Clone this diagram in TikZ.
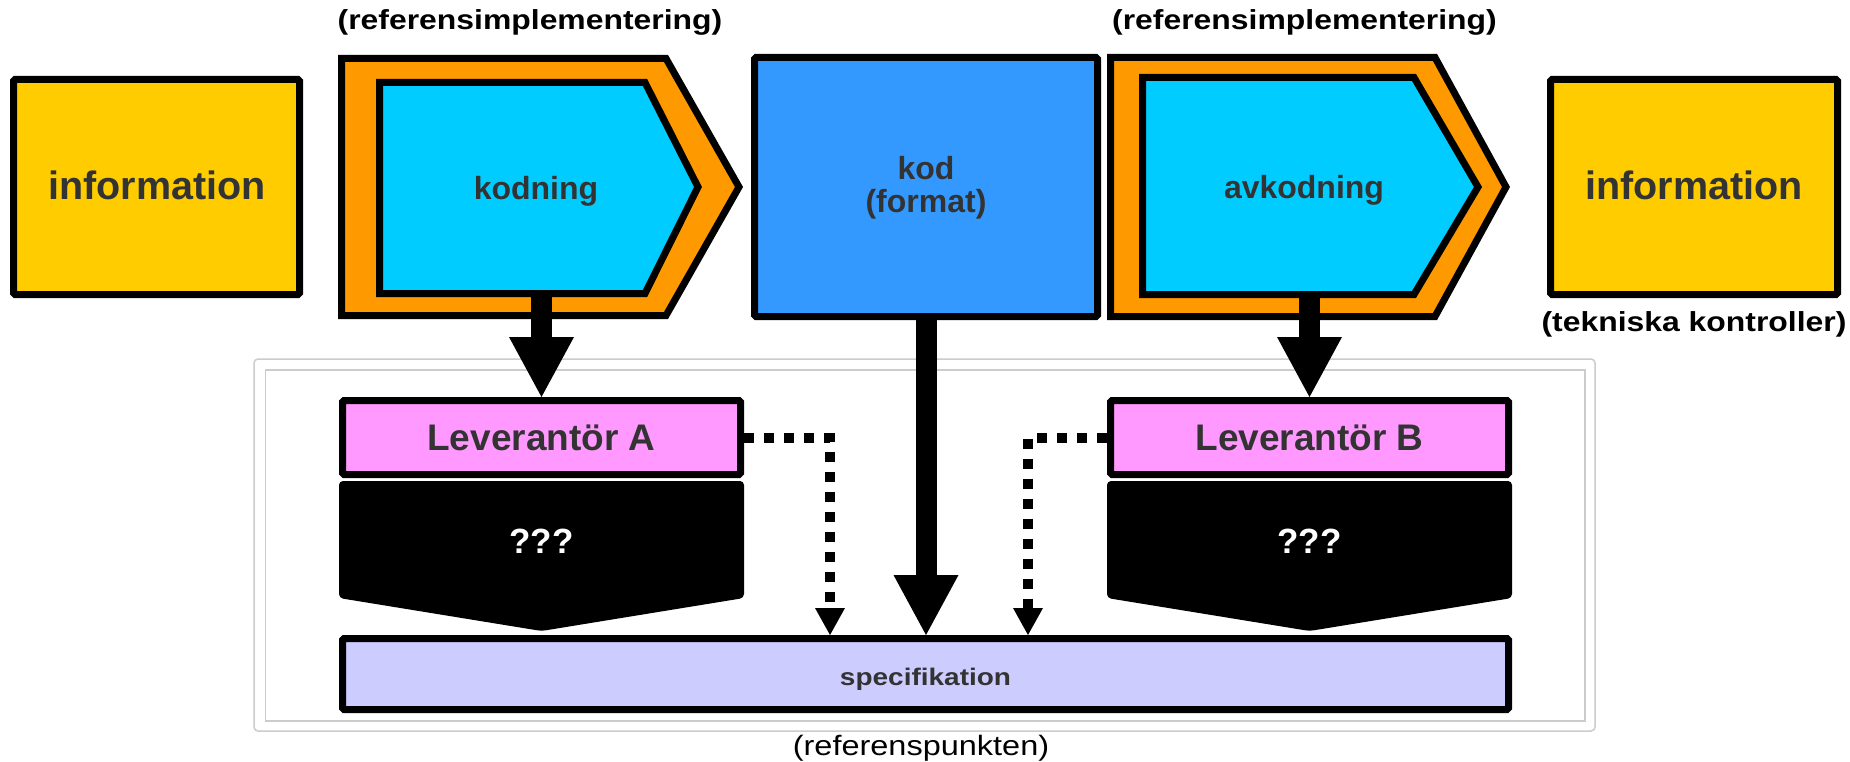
\documentclass[tikz,border=0pt]{standalone}
\usepackage{fontspec}
\setmainfont{Liberation Sans}
\usetikzlibrary{arrows.meta}
\definecolor{yel}{HTML}{FFCC00}
\definecolor{org}{HTML}{FF9900}
\definecolor{cya}{HTML}{00CCFF}
\definecolor{blu}{HTML}{3399FF}
\definecolor{pnk}{HTML}{FF99FF}
\definecolor{lav}{HTML}{CCCCFF}
\definecolor{txt}{HTML}{333333}
\definecolor{frm}{HTML}{CCCCCC}
\tikzset{
  boxn/.style={draw=black, line width=7pt, rounded corners=1.5pt, inner sep=0pt},
  shp/.style={draw=black, line width=7pt, line join=miter, miter limit=10},
  lbl/.style={text=txt, font=\bfseries, inner sep=0pt},
  note/.style={text=black, inner sep=0pt},
  qq/.style={text=white, inner sep=0pt, anchor=base, font=\bfseries\fontsize{35}{40}\selectfont},
  bigarrow/.style={line width=21pt, -{Triangle[width=65pt,length=60pt,line width=0pt]}},
  dotarrow/.style={line width=10pt, dash pattern=on 10pt off 10pt, -{Triangle[width=30pt,length=27pt,line width=0pt]}},
}
\begin{document}
\begin{tikzpicture}[x=1pt,y=-1pt]
\useasboundingbox[fill=white] (0,0) rectangle (1850,762);

% reference frame
\draw[frm, line width=1.5pt, rounded corners=4pt] (254,359) rectangle (1595,731);
\draw[frm, line width=1.5pt] (265.5,370) rectangle (1585,721);

% information boxes
\node[boxn, fill=yel, minimum width=286pt, minimum height=215pt] (infoL) at (156.5,187) {};
\node[lbl, anchor=base, font=\bfseries\fontsize{39.5}{44}\selectfont] at (157,200) {information};
\node[boxn, fill=yel, minimum width=287pt, minimum height=215pt] (infoR) at (1694,187) {};
\node[lbl, anchor=base, font=\bfseries\fontsize{39.5}{44}\selectfont] at (1694,200) {information};
\node[note, anchor=base, font=\bfseries\fontsize{27.5}{32}\selectfont] (tek) at (1694,331) {\scalebox{1.16}[1]{(tekniska kontroller)}};

% left chevrons
\draw[shp, fill=org] (341.5,58.5) -- (666,58.5) -- (739,187) -- (666,315.5) -- (341.5,315.5) -- cycle;
\draw[shp, fill=cya] (379.5,82.5) -- (645,82.5) -- (698,187) -- (645,293.5) -- (379.5,293.5) -- cycle;
\node[lbl, anchor=base, font=\bfseries\fontsize{32}{36}\selectfont] (kodning) at (536,200) {kodning};
\node[note, anchor=base, font=\bfseries\fontsize{27.5}{32}\selectfont] (refL) at (530,30) {\scalebox{1.16}[1]{(referensimplementering)}};
\coordinate (cA) at (541.5,293.5);

% kod box
\node[boxn, fill=blu, minimum width=343pt, minimum height=259pt] (kod) at (926,187) {};
\node[lbl, anchor=base, font=\bfseries\fontsize{32}{36}\selectfont] at (926,180) {kod};
\node[lbl, anchor=base, font=\bfseries\fontsize{32}{36}\selectfont] at (926,213) {(format)};

% right chevrons
\draw[shp, fill=org] (1110.5,57.5) -- (1435,57.5) -- (1506,187) -- (1435,316.5) -- (1110.5,316.5) -- cycle;
\draw[shp, fill=cya] (1142.5,77.5) -- (1414,77.5) -- (1478,187) -- (1414,294.5) -- (1142.5,294.5) -- cycle;
\node[lbl, anchor=base, font=\bfseries\fontsize{32}{36}\selectfont] (avkodning) at (1304,199) {avkodning};
\node[note, anchor=base, font=\bfseries\fontsize{27.5}{32}\selectfont] (refR) at (1304.5,30) {\scalebox{1.16}[1]{(referensimplementering)}};
\coordinate (cB) at (1309.5,294.5);

% suppliers
\node[boxn, fill=pnk, minimum width=398pt, minimum height=74pt] (levA) at (541.5,437.5) {};
\node[lbl, anchor=base, font=\bfseries\fontsize{37}{40}\selectfont] at (541.5,450) {Leverantör A};
\node[boxn, fill=pnk, minimum width=398pt, minimum height=74pt] (levB) at (1309.5,437.5) {};
\node[lbl, anchor=base, font=\bfseries\fontsize{37}{40}\selectfont] at (1309.5,450) {Leverantör B};

% black ??? shapes
\fill[black, rounded corners=4pt] (339,481) -- (744,481) -- (744,598) -- (541.5,631) -- (339,598) -- cycle;
\node[qq] (qA) at (541.5,553) {???};
\fill[black, rounded corners=4pt] (1107,481) -- (1512,481) -- (1512,598) -- (1309.5,631) -- (1107,598) -- cycle;
\node[qq] (qB) at (1309.5,553) {???};

% specification
\node[boxn, fill=lav, minimum width=1166pt, minimum height=71pt] (spec) at (925.5,674) {};
\node[lbl, anchor=base, font=\bfseries\fontsize{24}{28}\selectfont] at (925.5,685) {\scalebox{1.166}[1]{specifikation}};
\node[note, anchor=base, font=\fontsize{28}{32}\selectfont] (refp) at (921,755) {\scalebox{1.16}[1]{(referenspunkten)}};

% connectors
\coordinate (dA) at (830,0);
\coordinate (dB) at (1028,0);
\draw[bigarrow] (cA) -- (levA.north);
\draw[bigarrow] (cB) -- (levB.north);
\draw[bigarrow] (kod.south) -- (spec.north -| kod.south);
\draw[dotarrow] (levA.east) -| (spec.north -| dA);
\draw[dotarrow] (levB.west) -| (spec.north -| dB);
\end{tikzpicture}
\end{document}
